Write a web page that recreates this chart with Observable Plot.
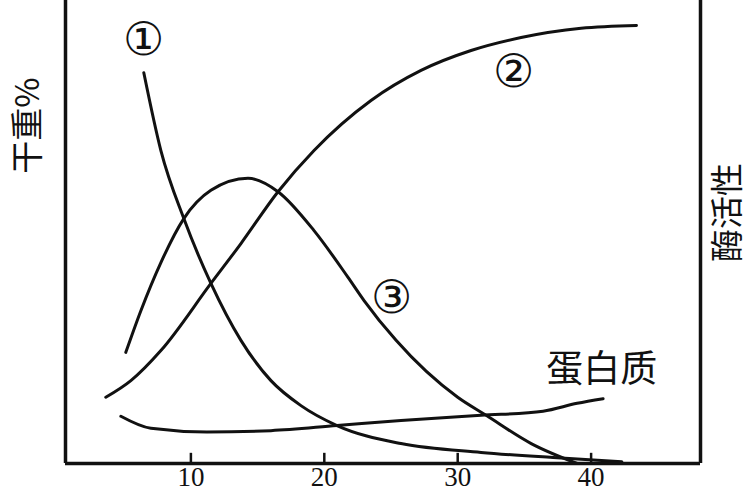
<!DOCTYPE html>
<html>
<head>
<meta charset="utf-8">
<script src="https://cdn.jsdelivr.net/npm/d3@7"></script>
<script src="https://cdn.jsdelivr.net/npm/@observablehq/plot@0.6"></script>
<style>
  html, body { margin: 0; padding: 0; background: #fff; }
  svg { display: block; }
</style>
</head>
<body>
<div id="chart"></div>
<script>
// Curve ① (x, y in % of plot height)
const curve1X = [6.47, 7.75, 9.47, 11.5, 13.75, 16.0, 18.25, 20.95, 25.75, 31.75, 37.15, 42.3];
const curve1Y = [84.4, 67.6, 52.9, 38.9, 26.6, 17.9, 12.5, 8.2, 4.3, 2.4, 1.3, 0.4];
// Curve ②
const curve2X = [3.62, 5.5, 7.75, 11.5, 13.75, 16.53, 19.23, 23.5, 27.25, 31.0, 34.75, 39.25, 43.4];
const curve2Y = [14.3, 17.9, 24.4, 38.9, 47.5, 58.7, 67.6, 78.4, 84.9, 89.2, 92.0, 94.0, 94.6];
// Curve ③
const curve3X = [5.12, 6.25, 7.75, 9.47, 11.5, 14.28, 16.53, 19.23, 21.78, 22.98, 25.38, 30.0, 32.13, 35.51, 38.96];
const curve3Y = [24.0, 33.0, 43.4, 52.9, 59.0, 61.6, 58.7, 50.3, 40.2, 35.2, 26.6, 14.3, 10.4, 4.3, 0.0];
// Protein curve
const proteinX = [4.75, 7.0, 11.2, 16.0, 20.95, 25.75, 31.75, 36.4, 38.95, 40.9];
const proteinY = [10.2, 7.6, 6.8, 7.1, 8.2, 9.3, 10.4, 11.3, 13.0, 14.0];

const xTicks = [10, 20, 30, 40];
const curveLabels = ["①", "②", "③", "蛋白质"];
const curveLabelX = [6.47, 34.2, 25.0, 40.8];
const curveLabelY = [91.4, 84.4, 35.6, 20.1];
const axisTitles = ["干重%", "酶活性"];
const axisTitleX = [-2.2, 50.3];
const axisTitleY = [73.0, 54.2];

const xDomain = [0.6, 48.2];
const yDomain = [0, 100];

const toRows = (xs, ys) => xs.map((x, i) => ({x, y: ys[i]}));
const series = [toRows(curve1X, curve1Y), toRows(curve2X, curve2Y), toRows(curve3X, curve3Y), toRows(proteinX, proteinY)];
const labelRows = curveLabels.map((t, i) => ({t, x: curveLabelX[i], y: curveLabelY[i]}));
const titleRows = axisTitles.map((t, i) => ({t, x: axisTitleX[i], y: axisTitleY[i]}));

const plot = Plot.plot({
  width: 750,
  height: 500,
  marginLeft: 65,
  marginRight: 50,
  marginTop: 0,
  marginBottom: 37,
  x: {domain: xDomain},
  y: {domain: yDomain},
  style: {background: "#fff", color: "#111", overflow: "visible"},
  marks: [
    ...series.map(rows => Plot.line(rows, {x: "x", y: "y", curve: "monotone-x", stroke: "#111", strokeWidth: 3})),
    Plot.ruleX([xDomain[0], xDomain[1]], {stroke: "#111", strokeWidth: 3.5}),
    Plot.ruleY([0], {stroke: "#111", strokeWidth: 3.5}),
    Plot.ruleX(xTicks, {x: d => d, y1: 0, y2: 2.2, stroke: "#111", strokeWidth: 2.5}),
    Plot.axisX({ticks: xTicks, tickSize: 0, tickPadding: 3, fontSize: 27, fontFamily: "Liberation Serif", tickFormat: d => String(d), label: null}),
    Plot.axisY({ticks: [], label: null}),
    Plot.text(labelRows.slice(0, 3), {x: "x", y: "y", text: "t", fontSize: 46, fontFamily: "DejaVu Serif", fill: "#111"}),
    Plot.text(labelRows.slice(3), {x: "x", y: "y", text: "t", fontSize: 37, fontFamily: "Noto Sans CJK SC", fill: "#111", style: "letter-spacing:4px"}),
    Plot.text(titleRows, {x: "x", y: "y", text: "t", rotate: -90, fontSize: 33, fontFamily: "Noto Sans CJK SC", fill: "#111"})
  ]
});
document.getElementById("chart").appendChild(plot);
</script>
</body>
</html>
